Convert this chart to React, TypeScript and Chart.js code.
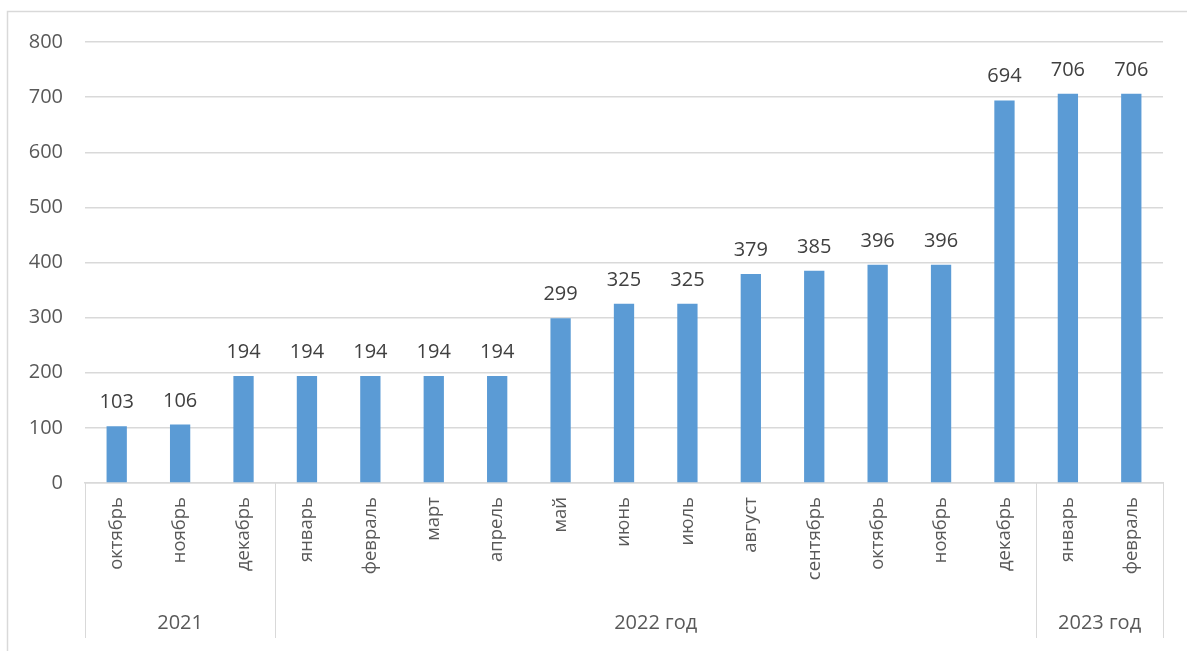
import React, { useEffect, useRef } from "react";
import { Chart, registerables } from "chart.js";

Chart.register(...registerables);

const months = [
  "октябрь", "ноябрь", "декабрь",
  "январь", "февраль", "март", "апрель", "май", "июнь", "июль", "август", "сентябрь", "октябрь", "ноябрь", "декабрь",
  "январь", "февраль",
];
const values = [103, 106, 194, 194, 194, 194, 194, 299, 325, 325, 379, 385, 396, 396, 694, 706, 706];
const groupLabels = ["2021", "2022 год", "2023 год"];
const groupSizes = [3, 12, 2];
const yTicks = [0, 100, 200, 300, 400, 500, 600, 700, 800];

const FONT = "'Open Sans', 'Noto Sans', sans-serif";
const GRID = "#d9d9d9";

const extrasPlugin = {
  id: "extras",
  afterDraw(chart: any) {
    const ctx = chart.ctx;
    const x = chart.scales.x;
    const y = chart.scales.y;
    const area = chart.chartArea;
    ctx.save();
    // outer border
    ctx.strokeStyle = GRID;
    ctx.lineWidth = 1.5;
    ctx.beginPath();
    ctx.moveTo(7.5, chart.height);
    ctx.lineTo(7.5, 11.5);
    ctx.lineTo(chart.width, 11.5);
    ctx.stroke();

    // group separators
    const bottomY = 638;
    ctx.lineWidth = 1;
    ctx.strokeStyle = GRID;
    const bounds: number[] = [area.left];
    let idx = 0;
    groupSizes.forEach((n, gi) => {
      idx += n;
      if (gi < groupSizes.length - 1) {
        bounds.push((x.getPixelForValue(idx - 1) + x.getPixelForValue(idx)) / 2);
      } else {
        bounds.push(area.right);
      }
    });
    bounds.forEach((bx) => {
      const px = Math.round(bx) + 0.5;
      ctx.beginPath();
      ctx.moveTo(px, area.bottom);
      ctx.lineTo(px, bottomY);
      ctx.stroke();
    });

    // group labels
    ctx.fillStyle = "#595959";
    ctx.font = `20px ${FONT}`;
    ctx.textAlign = "center";
    ctx.textBaseline = "middle";
    groupLabels.forEach((lab, gi) => {
      ctx.fillText(lab, (bounds[gi] + bounds[gi + 1]) / 2, 623);
    });

    // data labels
    ctx.fillStyle = "#404040";
    ctx.textBaseline = "alphabetic";
    values.forEach((v, i) => {
      ctx.fillText(String(v), x.getPixelForValue(i), y.getPixelForValue(v) - 18);
    });
    ctx.restore();
  },
};

export default function App() {
  const ref = useRef<HTMLCanvasElement | null>(null);
  useEffect(() => {
    if (!ref.current) return;
    const chart = new Chart(ref.current, {
      type: "bar",
      data: {
        labels: months,
        datasets: [
          {
            data: values,
            backgroundColor: "#5b9bd5",
            barPercentage: 0.32,
            categoryPercentage: 1,
          },
        ],
      },
      options: {
        animation: false,
        responsive: true,
        maintainAspectRatio: false,
        layout: { padding: { top: 42, right: 24, left: 0, bottom: 0 } },
        plugins: { legend: { display: false }, tooltip: { enabled: false } },
        scales: {
          x: {
            grid: { display: false, drawTicks: false },
            border: { display: true, color: GRID, width: 1.5 },
            ticks: {
              autoSkip: false,
              maxRotation: 90,
              minRotation: 90,
              padding: 14,
              color: "#595959",
              font: { family: FONT, size: 18.5 },
            },
            afterFit(scale: any) {
              scale.height = 168;
            },
          },
          y: {
            min: 0,
            max: 800,
            afterBuildTicks(scale: any) {
              scale.ticks = yTicks.map((v) => ({ value: v }));
            },
            grid: { color: GRID, drawTicks: false, lineWidth: 1.5 },
            border: { display: false },
            ticks: {
              padding: 22,
              color: "#595959",
              font: { family: FONT, size: 20 },
            },
            afterFit(scale: any) {
              scale.width = 85;
            },
          },
        },
      },
      plugins: [extrasPlugin],
    });
    return () => chart.destroy();
  }, []);
  return (
    <div style={{ position: "fixed", left: 0, top: 0, width: 1187, height: 651, background: "#fff" }}>
      <canvas ref={ref} />
    </div>
  );
}
